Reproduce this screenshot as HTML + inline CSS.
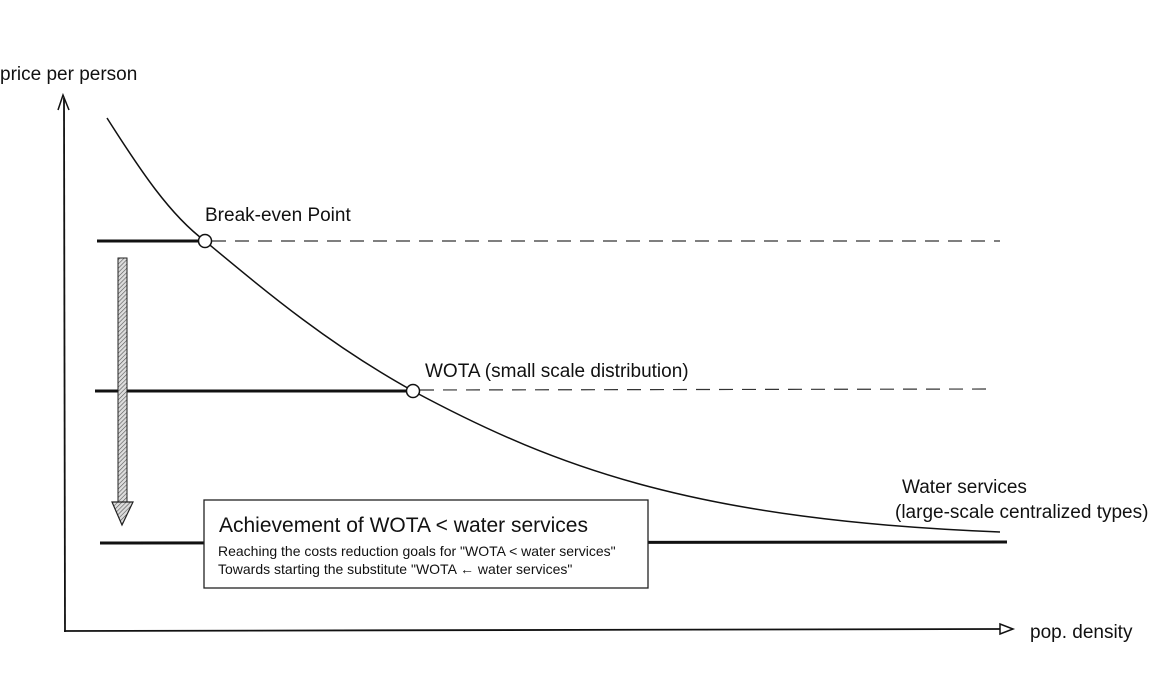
<!DOCTYPE html>
<html><head><style>
html,body{margin:0;padding:0;background:#fff;}
svg text{font-family:"Liberation Sans",sans-serif;fill:#111;}
</style></head><body>
<svg width="1157" height="686" viewBox="0 0 1157 686" xmlns="http://www.w3.org/2000/svg">
<defs>
<pattern id="h" width="3" height="3" patternUnits="userSpaceOnUse" patternTransform="rotate(45)">
<rect width="3" height="3" fill="#ddd"/><line x1="0" y1="0" x2="0" y2="3" stroke="#555" stroke-width="1.2"/>
</pattern>
</defs>
<!-- axes -->
<line x1="64" y1="98" x2="65" y2="632" stroke="#111" stroke-width="1.8"/>
<path d="M58 110 L63 95 L69 110" fill="none" stroke="#111" stroke-width="1.5"/>
<line x1="64" y1="631" x2="1000" y2="629" stroke="#111" stroke-width="1.8"/>
<path d="M1000 624 L1013 629 L1000 634 Z" fill="#fff" stroke="#111" stroke-width="1.5"/>
<text x="0" y="80" font-size="19">price per person</text>
<text x="1030" y="638" font-size="19">pop. density</text>
<!-- horizontal lines -->
<line x1="97" y1="241" x2="205" y2="241" stroke="#111" stroke-width="3"/>
<line x1="212" y1="241" x2="1000" y2="241" stroke="#333" stroke-width="1.2" stroke-dasharray="14,9"/>
<line x1="95" y1="391" x2="413" y2="391" stroke="#111" stroke-width="3"/>
<line x1="420" y1="390" x2="995" y2="389" stroke="#333" stroke-width="1.2" stroke-dasharray="14,9"/>
<line x1="100" y1="543" x2="1007" y2="542" stroke="#111" stroke-width="3"/>
<!-- curve -->
<path d="M107 118 C140 170 170 215 205 241 C270 295 330 345 413 391 C560 470 700 520 1000 532" fill="none" stroke="#111" stroke-width="1.5"/>
<circle cx="205" cy="241" r="6.5" fill="#fff" stroke="#111" stroke-width="1.5"/>
<circle cx="413" cy="391" r="6.5" fill="#fff" stroke="#111" stroke-width="1.5"/>
<text x="205" y="221" font-size="19">Break-even Point</text>
<text x="425" y="377" font-size="19">WOTA (small scale distribution)</text>
<text x="902" y="493" font-size="19">Water services</text>
<text x="895" y="518" font-size="19">(large-scale centralized types)</text>
<!-- vertical arrow -->
<rect x="118" y="258" width="9" height="244" fill="url(#h)" stroke="#222" stroke-width="1"/>
<path d="M112 502 L133 502 L122 525 Z" fill="url(#h)" stroke="#222" stroke-width="1.2"/>
<!-- box -->
<rect x="204" y="500" width="444" height="88" fill="#fff" stroke="#222" stroke-width="1.3"/>
<text x="219" y="532" font-size="21">Achievement of WOTA &lt; water services</text>
<text x="218" y="556" font-size="14">Reaching the costs reduction goals for "WOTA &lt; water services"</text>
<text x="218" y="574" font-size="14">Towards starting the substitute "WOTA ← water services"</text>
</svg>
</body></html>
